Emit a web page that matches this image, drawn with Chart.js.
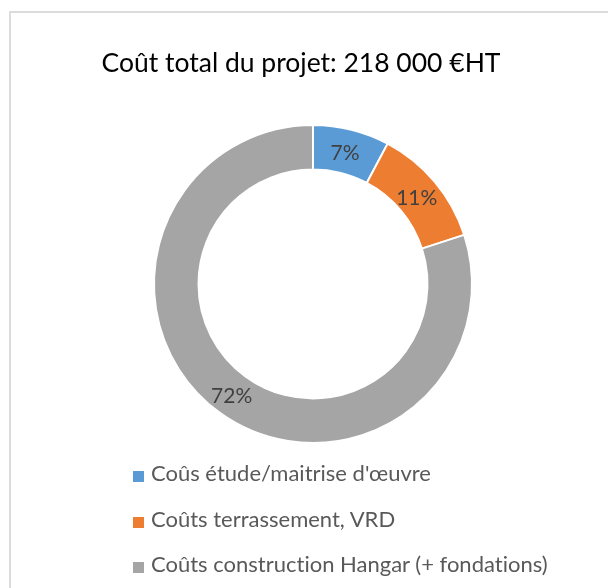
<!DOCTYPE html>
<html lang="fr">
<head>
    <meta charset="UTF-8">
    <title>Coût total du projet</title>
    <script src="https://cdn.jsdelivr.net/npm/chart.js@4"></script>
    <style>
        body { margin: 0; background: #fff; font-family: Lato, "Open Sans", sans-serif; font-variant-ligatures: none; }
        #wrap { position: relative; width: 608px; height: 588px; overflow: hidden; }
        #frame {
            position: absolute; left: 9px; top: 11px; width: 700px; height: 700px;
            border-left: 2px solid #dcdcdc; border-top: 2px solid #dcdcdc;
        }
        #chartTitle {
            position: absolute; left: 0; width: 602px; top: 46px;
            text-align: center; font-size: 26.5px; line-height: 32px; color: #000;
        }
        #legend { position: absolute; left: 133px; top: 450px; }
        .item { display: flex; align-items: center; height: 45.5px; font-size: 22px; color: #595959; }
        .item span.box { width: 11px; height: 11px; margin-right: 7px; margin-top: 8px; flex: none; }
        canvas { position: absolute; left: 0; top: 0; }
    </style>
</head>
<body>
<div id="wrap">
    <div id="frame"></div>
    <canvas id="donut" width="608" height="588"></canvas>
    <div id="chartTitle"></div>
    <div id="legend"></div>
</div>
<script>
    var titleText = "Coût total du projet: 218 000 €HT";
    var categories = [
        "Coûs étude/maitrise d'œuvre",
        "Coûts terrassement, VRD",
        "Coûts construction Hangar (+ fondations)"
    ];
    var values = [7, 11, 72];
    var colors = ["#5B9BD5", "#ED7D31", "#A5A5A5"];

    document.getElementById("chartTitle").textContent = titleText;

    // percentage labels in the middle of each ring segment
    var sliceLabels = {
        id: "sliceLabels",
        afterDatasetsDraw(chart) {
            var ctx = chart.ctx;
            var meta = chart.getDatasetMeta(0);
            ctx.save();
            ctx.fillStyle = "#404040";
            ctx.font = "21px Lato";
            ctx.textAlign = "center";
            ctx.textBaseline = "middle";
            meta.data.forEach((arc, i) => {
                var p = arc.tooltipPosition();
                ctx.fillText(values[i] + "%", p.x - 1, p.y + 2);
            });
            ctx.restore();
        }
    };

    var chart = new Chart(document.getElementById("donut"), {
        type: "doughnut",
        data: {
            labels: categories,
            datasets: [{
                data: values,
                backgroundColor: colors,
                borderColor: "#ffffff",
                borderWidth: 2
            }]
        },
        options: {
            responsive: false,
            animation: false,
            cutout: "72%",
            layout: { padding: { left: 153, right: 135, top: 124, bottom: 144 } },
            plugins: {
                legend: { display: false },
                title: { display: false },
                tooltip: { enabled: false }
            }
        },
        plugins: [sliceLabels]
    });

    var legend = document.getElementById("legend");
    categories.forEach((c, i) => {
        var row = document.createElement("div");
        row.className = "item";
        var box = document.createElement("span");
        box.className = "box";
        box.style.background = colors[i];
        var txt = document.createElement("span");
        txt.textContent = c;
        row.appendChild(box);
        row.appendChild(txt);
        legend.appendChild(row);
    });
</script>
</body>
</html>
